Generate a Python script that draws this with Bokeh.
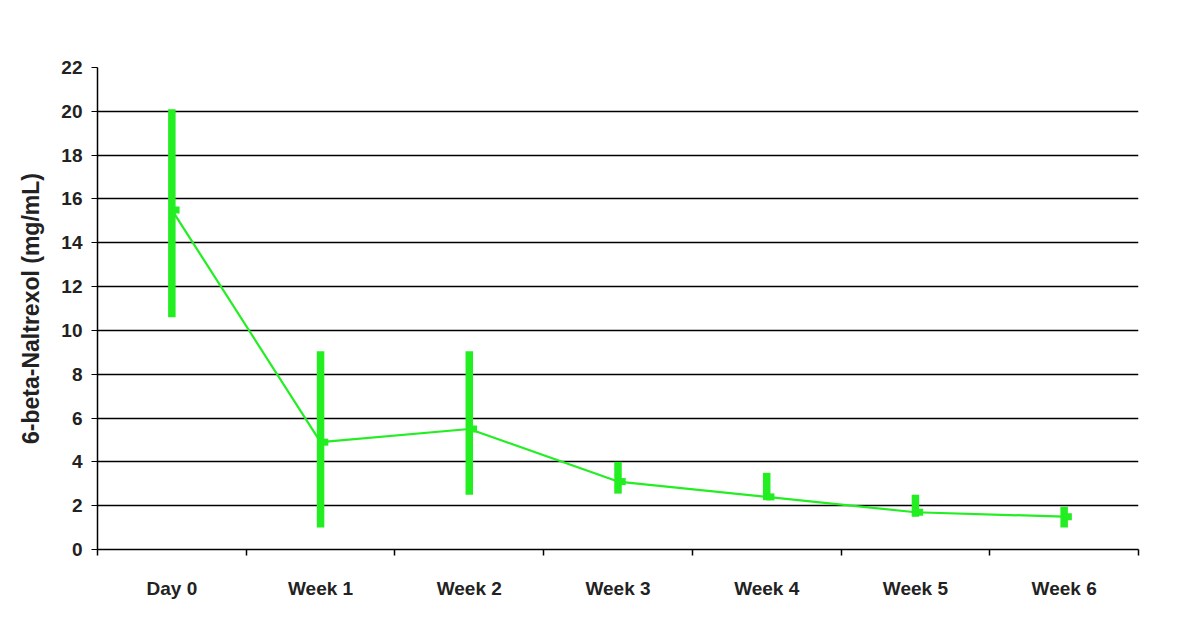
from bokeh.plotting import figure
from bokeh.models import Range1d, FixedTicker, ColumnDataSource
from bokeh.transform import dodge
from bokeh.embed import file_html
from bokeh.resources import INLINE

categories = ["Day 0", "Week 1", "Week 2", "Week 3", "Week 4", "Week 5", "Week 6"]
means = [15.5, 4.9, 5.5, 3.1, 2.4, 1.7, 1.5]
lower = [10.6, 1.0, 2.5, 2.55, 2.25, 1.5, 1.0]
upper = [20.1, 9.05, 9.05, 4.0, 3.5, 2.5, 1.95]

xs = [i + 0.5 for i in range(len(categories))]
src = ColumnDataSource(dict(x=xs, m=means, lo=lower, hi=upper))

GREEN = "#22ee22"

p = figure(width=1184, height=625, output_backend="svg", toolbar_location=None,
           x_range=Range1d(0, len(categories)), y_range=Range1d(0, 22),
           min_border_left=97, min_border_top=67, min_border_right=46, min_border_bottom=76)
p.outline_line_color = None
p.background_fill_color = "white"
p.border_fill_color = "white"

# error bars
p.segment(x0="x", y0="lo", x1="x", y1="hi", source=src, line_color=GREEN, line_width=7.5)
# mean line
p.line(x="x", y="m", source=src, line_color=GREEN, line_width=2.2)
# mean markers
p.rect(x=dodge("x", 0.025, range=p.x_range), y="m", width=8, height=7,
       width_units="screen", height_units="screen", source=src,
       fill_color=GREEN, line_color=None)

# y axis
p.yaxis.ticker = FixedTicker(ticks=list(range(0, 23, 2)))
p.yaxis.axis_label = "6-beta-Naltrexol (mg/mL)"
p.yaxis.axis_label_text_font = "Liberation Sans"
p.yaxis.axis_label_text_font_style = "bold"
p.yaxis.axis_label_text_font_size = "23px"
p.yaxis.axis_label_text_color = "#222222"
p.yaxis.axis_label_standoff = 14
p.yaxis.major_label_text_font = "Liberation Sans"
p.yaxis.major_label_text_font_style = "bold"
p.yaxis.major_label_text_font_size = "19px"
p.yaxis.major_label_text_color = "#222222"
p.yaxis.major_label_standoff = 9
p.yaxis.major_tick_out = 6
p.yaxis.major_tick_in = 0
p.yaxis.minor_tick_line_color = None
p.yaxis.axis_line_color = "black"
p.yaxis.axis_line_width = 1.5
p.yaxis.major_tick_line_color = "black"

# x axis: labels at centres, tick marks at boundaries
p.xaxis.ticker = FixedTicker(ticks=xs, minor_ticks=list(range(0, len(categories) + 1)))
p.xaxis.major_label_overrides = {x: c for x, c in zip(xs, categories)}
p.xaxis.major_tick_line_color = None
p.xaxis.minor_tick_out = 6
p.xaxis.minor_tick_in = 0
p.xaxis.minor_tick_line_color = "black"
p.xaxis.minor_tick_line_width = 1.5
p.xaxis.axis_line_color = "black"
p.xaxis.axis_line_width = 1.5
p.xaxis.major_label_standoff = 22
p.xaxis.major_label_text_font = "Liberation Sans"
p.xaxis.major_label_text_font_style = "bold"
p.xaxis.major_label_text_font_size = "19px"
p.xaxis.major_label_text_color = "#222222"

p.xgrid.grid_line_color = None
p.ygrid.ticker = FixedTicker(ticks=list(range(2, 23, 2)))
p.ygrid.grid_line_color = "black"
p.ygrid.grid_line_width = 1.5

open("out.html", "w").write(file_html(p, INLINE))
